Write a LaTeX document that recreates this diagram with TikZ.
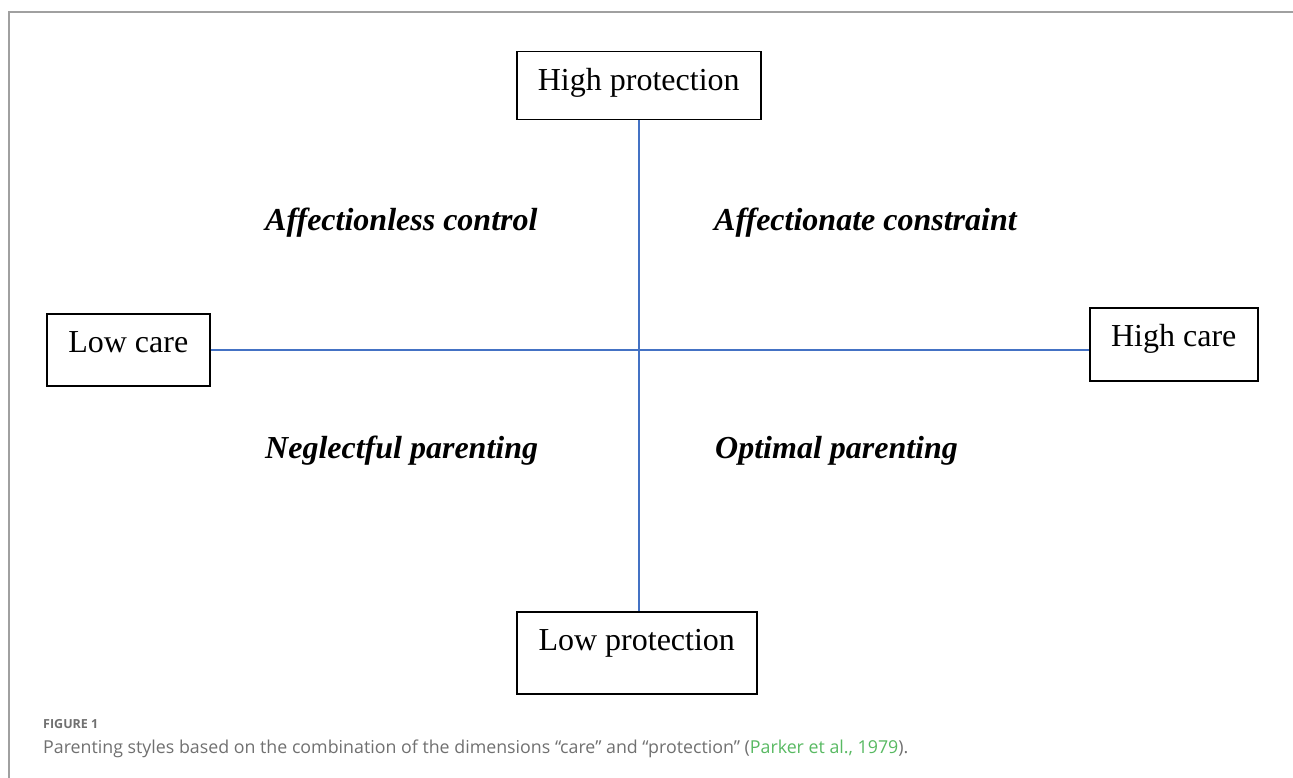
\documentclass[tikz,border=0pt]{standalone}
\usepackage{fontspec}
\setmainfont{Liberation Serif}
\newfontfamily\capfont{Open Sans}
\usetikzlibrary{positioning}

\definecolor{axisblue}{RGB}{68,114,196}
\definecolor{framegray}{RGB}{160,160,160}
\definecolor{capgray}{RGB}{112,112,112}
\definecolor{refgreen}{RGB}{88,185,98}

\tikzset{
  dimbox/.style={draw, line width=1.5pt, inner xsep=0pt, inner ysep=0pt,
    anchor=north west, align=center, text height=39pt,
    font=\fontsize{32}{38}\selectfont},
  axisline/.style={draw=axisblue, line width=1.5pt},
  quadlabel/.style={anchor=base west, inner sep=0pt,
    font=\fontsize{32}{38}\selectfont\bfseries\itshape},
}

\begin{document}
\begin{tikzpicture}[x=1pt, y=-1pt]
  \useasboundingbox (0,0) rectangle (1293,778);
  % frame
  \draw[framegray, line width=1.5pt] (9,778) -- (9,12) -- (1293,12);

  % the four ends of the axes
  \node[dimbox, minimum width=244pt, text depth=29pt] (hp) at (516,51)  {High protection};
  \node[dimbox, minimum width=240pt, text depth=43pt] (lp) at (516,611) {Low protection};
  \node[dimbox, minimum width=163pt, text height=38.7pt, text depth=33.3pt] (lc) at (46,313) {Low care};
  \node[dimbox, minimum width=168pt, text depth=34pt] (hc) at (1089,307) {High care};

  % axes
  \draw[axisline] (hp.south) -- (hp.south |- lp.north);
  \draw[axisline] (lc.east) -- (lc.east -| hc.west);

  % quadrants
  \node[quadlabel] (ac) at (265,230) {Affectionless control};
  \node[quadlabel] (at) at (714,230) {Affectionate constraint};
  \node[quadlabel] (np) at (265,458) {Neglectful parenting};
  \node[quadlabel] (op) at (715,458) {Optimal parenting};

  % caption
  \node[anchor=base west, inner sep=0pt, text=capgray,
    font=\capfont\bfseries\fontsize{12.5}{15}\selectfont] (fig) at (43,728) {FIGURE 1};
  \node[anchor=base west, inner sep=0pt, text=capgray,
    font=\capfont\fontsize{17.8}{21}\selectfont] (cap) at (43,753)
    {Parenting styles based on the combination of the dimensions “care” and “protection” (\textcolor{refgreen}{Parker et al., 1979}).};
\end{tikzpicture}
\end{document}
